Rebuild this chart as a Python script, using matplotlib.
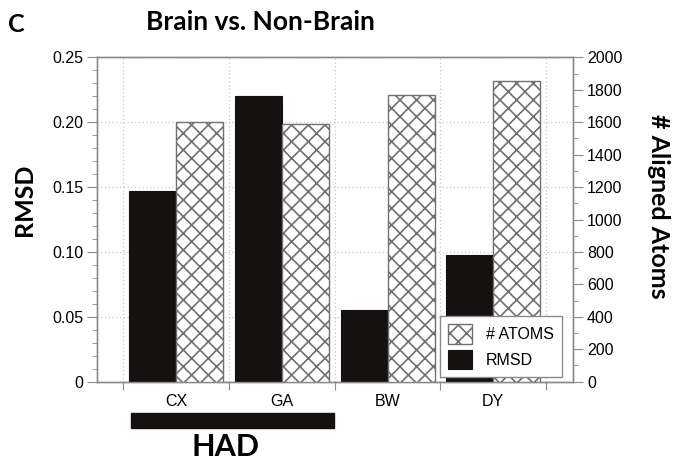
import matplotlib
matplotlib.use("Agg")
import matplotlib.pyplot as plt
import matplotlib.transforms as mtransforms
from matplotlib.patches import Rectangle
import numpy as np

# samples and values
categorias = ["CX", "GA", "BW", "DY"]
rmsd = [0.147, 0.220, 0.055, 0.098]
atomos = [1600, 1590, 1770, 1855]

plt.rcParams["font.family"] = ["Liberation Sans", "DejaVu Sans"]
plt.rcParams["hatch.linewidth"] = 1.2

CINZA = "#8a8a8a"
PRETO = "#141110"
FONTE_TITULO = ["Lato", "DejaVu Sans"]
TAM = 11.5

fig = plt.figure(figsize=(6.77, 4.61), dpi=100)
ax = fig.add_axes([0.1433, 0.172, 0.7031, 0.7037])
ax2 = ax.twinx()

x = np.arange(len(categorias))
largura = 0.445

barras_rmsd = ax.bar(x - largura / 2, rmsd, largura, color=PRETO,
                     edgecolor=PRETO, linewidth=0.8, label="RMSD", zorder=3)
barras_atomos = ax2.bar(x + largura / 2, atomos, largura, color="white",
                        edgecolor="#707070", hatch="xx", linewidth=1.0,
                        label="# ATOMS", zorder=3)

ax.set_xlim(-0.75, 3.755)
ax.set_ylim(0, 0.25)
ax2.set_ylim(0, 2000)

# ticks nos limites das categorias, rotulos no centro
ax.set_xticks(np.arange(-0.5, len(categorias), 1.0))
ax.set_xticklabels([])
ax.set_xticks(x, minor=True)
ax.set_xticklabels(categorias, minor=True, fontsize=TAM)
ax.tick_params(axis="x", which="major", length=6, color=CINZA, direction="out")
ax.tick_params(axis="x", which="minor", length=0, pad=9)

ax.set_yticks(np.arange(0, 0.2501, 0.05))
ax.set_yticklabels(["0", "0.05", "0.10", "0.15", "0.20", "0.25"])
ax.set_yticks(np.arange(0, 0.2501, 0.01), minor=True)
ax.tick_params(axis="y", which="major", length=7, color=CINZA, labelsize=TAM, pad=3)
ax.tick_params(axis="y", which="minor", length=3.5, color=CINZA)

ax2.set_yticks(np.arange(0, 2001, 200))
ax2.set_yticks(np.arange(0, 2001, 100), minor=True)
ax2.tick_params(axis="y", which="major", length=7, color=CINZA, labelsize=TAM, pad=3)
ax2.tick_params(axis="y", which="minor", length=3.5, color=CINZA)

for a in (ax, ax2):
    for s in a.spines.values():
        s.set_color(CINZA)
        s.set_linewidth(1.0)

ax.grid(True, which="major", axis="both", linestyle=(0, (1, 2)),
        color="#c8c8c8", linewidth=0.9, zorder=0)
ax.set_axisbelow(True)

# legenda por cima das barras
ax2.legend([barras_atomos, barras_rmsd], ["# ATOMS", "RMSD"],
           loc="lower right", bbox_to_anchor=(0.977, 0.0145),
           borderaxespad=0, fontsize=TAM, frameon=True, fancybox=False,
           edgecolor=CINZA, framealpha=1, handlelength=1.5, handleheight=1.5,
           borderpad=0.5, labelspacing=0.35, handletextpad=0.9)

# barra do grupo HAD abaixo do eixo
trans = mtransforms.blended_transform_factory(ax.transData, ax.transAxes)
ax.add_patch(Rectangle((-0.43, -0.1427), 1.92, 0.046, transform=trans,
                       color=PRETO, clip_on=False))
ax.text(0.47, -0.2, "HAD", transform=trans, ha="center", va="center",
        fontsize=22, fontweight="bold", family=FONTE_TITULO)

fig.text(0.384, 0.952, "Brain vs. Non-Brain", ha="center", va="center",
         fontsize=19, fontweight="bold", family=FONTE_TITULO)
fig.text(0.024, 0.946, "C", ha="center", va="center",
         fontsize=18, fontweight="bold", family=FONTE_TITULO)
fig.text(0.036, 0.566, "RMSD", rotation=90, ha="center", va="center",
         fontsize=18, fontweight="bold", family=FONTE_TITULO)
fig.text(0.972, 0.553, "# Aligned Atoms", rotation=270, ha="center", va="center",
         fontsize=18, fontweight="bold", family=FONTE_TITULO)

fig.savefig("out.png", dpi=100)
